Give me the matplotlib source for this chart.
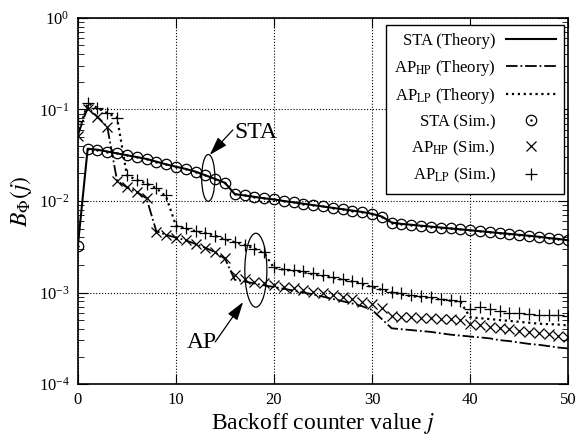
import numpy as np
import matplotlib
matplotlib.use('Agg')
import matplotlib.pyplot as plt
from matplotlib.patches import Ellipse
from matplotlib.lines import Line2D

plt.rcParams['font.family'] = ['Liberation Serif', 'DejaVu Serif']
plt.rcParams['mathtext.fontset'] = 'stix'

# backoff counter values
j = np.arange(0, 51)

# STA (theory and simulation lie on top of each other)
sta = [0.00324, 0.0372, 0.0363, 0.0347, 0.0331, 0.0316, 0.0302, 0.0288, 0.0269, 0.0251,
       0.0237, 0.0224, 0.0209, 0.0191, 0.0174, 0.0158, 0.0119, 0.0115, 0.0111, 0.0107,
       0.0104, 0.0100, 0.00966, 0.00933, 0.00902, 0.00871, 0.00841, 0.00813, 0.00785, 0.00759,
       0.00724, 0.00676, 0.00582, 0.00562, 0.00550, 0.00537, 0.00525, 0.00513, 0.00501, 0.00490,
       0.00479, 0.00468, 0.00457, 0.00447, 0.00437, 0.00427, 0.00417, 0.00407, 0.00394, 0.00385,
       0.00372]

# AP high priority
ap_hp_theory = [0.0525, 0.105, 0.0832, 0.0646, 0.0166, 0.0141, 0.0126, 0.0107, 0.00468, 0.00427,
                0.00398, 0.00372, 0.00339, 0.00309, 0.00275, 0.00234, 0.00138, 0.00132, 0.00126, 0.00120,
                0.00115, 0.00110, 0.00105, 0.00100, 0.000955, 0.000902, 0.000851, 0.000804, 0.000759, 0.000708,
                0.000646, 0.000513, 0.000407, 0.000398, 0.000389, 0.000380, 0.000372, 0.000359, 0.000347, 0.000339,
                0.000331, 0.000324, 0.000316, 0.000302, 0.000295, 0.000285, 0.000275, 0.000269, 0.000260, 0.000251,
                0.000245]
ap_hp_sim = [0.051, 0.102, 0.083, 0.0646, 0.0166, 0.0141, 0.0126, 0.0107, 0.00462, 0.00427,
             0.00398, 0.00372, 0.00339, 0.00309, 0.00275, 0.00240, 0.00155, 0.00141, 0.00132, 0.00126,
             0.00120, 0.00115, 0.00111, 0.00107, 0.00102, 0.000977, 0.000933, 0.000891, 0.000851, 0.000794,
             0.000741, 0.000676, 0.000550, 0.000543, 0.000537, 0.000531, 0.000525, 0.000519, 0.000513, 0.000507,
             0.000457, 0.000437, 0.000422, 0.000407, 0.000398, 0.000385, 0.000372, 0.000363, 0.000351, 0.000339,
             0.000331]

# AP low priority
ap_lp_theory = [0.0525, 0.117, 0.104, 0.0912, 0.0813, 0.0191, 0.0170, 0.0155, 0.0138, 0.0112,
                0.00537, 0.00501, 0.00468, 0.00447, 0.00417, 0.00380, 0.00355, 0.00331, 0.00302, 0.00269,
                0.00186, 0.00178, 0.00172, 0.00166, 0.00158, 0.00151, 0.00145, 0.00138, 0.00132, 0.00123,
                0.00115, 0.00107, 0.00100, 0.000955, 0.000912, 0.000891, 0.000871, 0.000841, 0.000813, 0.000794,
                0.000537, 0.000525, 0.000513, 0.000501, 0.000490, 0.000479, 0.000468, 0.000457, 0.000452, 0.000447,
                0.000437]
ap_lp_sim = [0.074, 0.117, 0.104, 0.0912, 0.0813, 0.0191, 0.0170, 0.0155, 0.0138, 0.0115,
             0.00537, 0.00501, 0.00468, 0.00447, 0.00417, 0.00380, 0.00355, 0.00331, 0.00302, 0.00275,
             0.00191, 0.00182, 0.00176, 0.00170, 0.00162, 0.00155, 0.00148, 0.00141, 0.00135, 0.00126,
             0.00117, 0.00110, 0.00102, 0.000977, 0.000933, 0.000912, 0.000891, 0.000861, 0.000832, 0.000813,
             0.000661, 0.000692, 0.000661, 0.000631, 0.000603, 0.000596, 0.000589, 0.000575, 0.000569, 0.000562,
             0.000550]

fig = plt.figure(figsize=(5.81, 4.36), dpi=100)
ax = fig.add_axes([0.134, 0.119, 0.844, 0.840])

ms = 7.5
ax.plot(j, sta, '-', color='black', lw=1.5)
ax.plot(j, ap_hp_theory, '-.', color='black', lw=1.3)
ax.plot(j, ap_lp_theory, ':', color='black', lw=1.6)
ax.plot(j, sta, 'o', mfc='none', mec='black', ms=ms, mew=0.9)
ax.plot(j, sta, '.', color='black', ms=1.5)
ax.plot(j, ap_hp_sim, 'x', color='black', ms=ms, mew=0.9)
ax.plot(j, ap_lp_sim, '+', color='black', ms=ms + 1, mew=0.9)

ax.set_yscale('log')
ax.set_xlim(0, 50)
ax.set_ylim(1e-4, 1)
ax.set_xticks([0, 10, 20, 30, 40, 50])
ax.grid(True, which='major', linestyle=':', color='black', lw=0.8)
ax.tick_params(which='both', direction='in', top=True, right=True, labelsize=12)
ax.tick_params(which='major', length=7, pad=6)
ax.tick_params(which='minor', length=4)
for s in ax.spines.values():
    s.set_linewidth(1.2)

ax.set_xlabel('Backoff counter value $j$', fontsize=17, labelpad=2)
ax.set_ylabel(r'$B_{\Phi}(j)$', fontsize=17, labelpad=3)

# annotations
arrow = dict(arrowstyle='-|>,head_length=0.7,head_width=0.22', color='black', lw=0.9,
             shrinkA=0, shrinkB=0, mutation_scale=16)
ax.add_patch(Ellipse((0.266, 0.563), 0.027, 0.128, transform=ax.transAxes,
                     fill=False, ec='black', lw=0.9))
ax.add_patch(Ellipse((0.363, 0.311), 0.045, 0.202, transform=ax.transAxes,
                     fill=False, ec='black', lw=0.9))
ax.annotate('', xy=(0.269, 0.626), xytext=(0.316, 0.694), xycoords='axes fraction',
            textcoords='axes fraction', arrowprops=arrow)
ax.annotate('', xy=(0.337, 0.224), xytext=(0.280, 0.115), xycoords='axes fraction',
            textcoords='axes fraction', arrowprops=arrow)
ax.text(0.320, 0.672, 'STA', transform=ax.transAxes, fontsize=17, ha='left', va='baseline')
ax.text(0.222, 0.098, 'AP', transform=ax.transAxes, fontsize=17, ha='left', va='baseline')

# legend
handles = [
    Line2D([], [], color='black', lw=1.5, ls='-'),
    Line2D([], [], color='black', lw=1.3, ls='-.'),
    Line2D([], [], color='black', lw=1.6, ls=':'),
    (Line2D([], [], ls='none', marker='o', mfc='none', mec='black', ms=ms, mew=0.9),
     Line2D([], [], ls='none', marker='.', color='black', ms=1.5)),
    Line2D([], [], ls='none', marker='x', color='black', ms=ms, mew=0.9),
    Line2D([], [], ls='none', marker='+', color='black', ms=ms + 1, mew=0.9),
]
labels = ['STA (Theory)', r'AP$_{\rm HP}$ (Theory)', r'AP$_{\rm LP}$ (Theory)',
          'STA (Sim.)', r'AP$_{\rm HP}$ (Sim.)', r'AP$_{\rm LP}$ (Sim.)']
leg = ax.legend(handles, labels, loc='upper right', bbox_to_anchor=(0.992, 0.981),
                borderaxespad=0, markerfirst=False, fancybox=False, framealpha=1,
                edgecolor='black', fontsize=12, handlelength=3.0, labelspacing=0.5,
                handletextpad=0.6, borderpad=0.5)
leg.get_frame().set_linewidth(1.0)
for col in leg._legend_handle_box.get_children():
    col.align = 'right'

fig.savefig('out.png', dpi=100)
